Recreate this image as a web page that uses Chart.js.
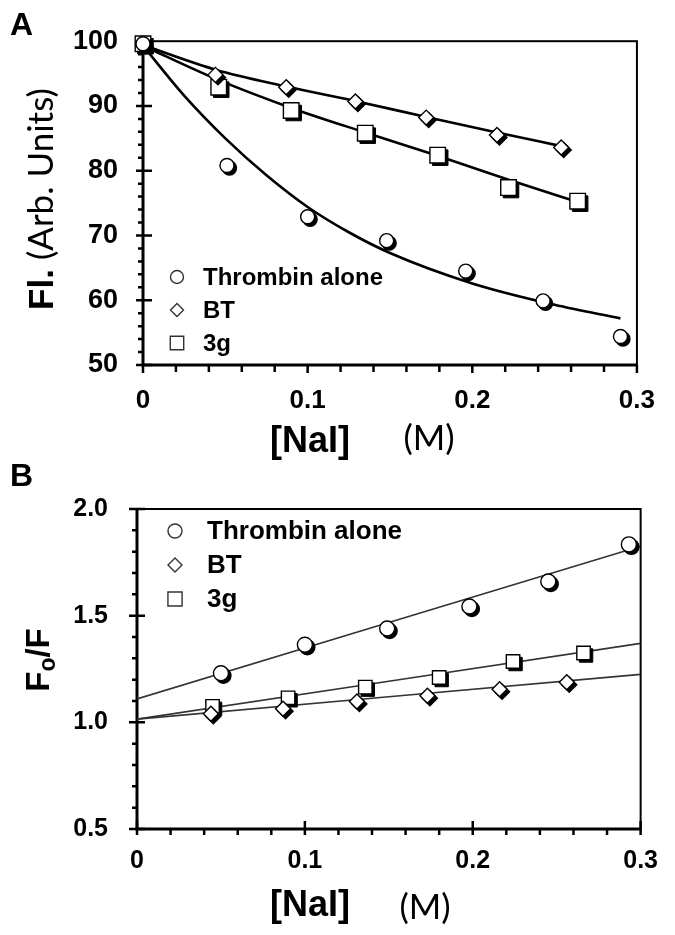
<!DOCTYPE html>
<html>
<head>
<meta charset="utf-8">
<script src="https://cdn.jsdelivr.net/npm/chart.js@4.4.0/dist/chart.umd.min.js"></script>
<style>
  body { margin: 0; background: #fff; }
  #page { position: relative; width: 675px; height: 935px; overflow: hidden; background: #fff; }
  canvas { position: absolute; left: 0; }
  .lbl { position: absolute; white-space: nowrap; color: #000; line-height: 1;
         font-family: "Liberation Sans", Arial, sans-serif; }
  .c { transform: translate(-50%, -50%); }
  .rot { transform: translate(-50%, -50%) rotate(-90deg); }
  .b { font-weight: bold; }
  .thin { font-family: Lato, "Open Sans", sans-serif; font-weight: normal; }
</style>
</head>
<body>
<div id="page">
  <canvas id="chartA" width="675" height="465" style="top:0"></canvas>
  <canvas id="chartB" width="675" height="470" style="top:465px"></canvas>

  <div class="lbl b" style="left:10px;top:8px;font-size:32px">A</div>
  <div class="lbl b" style="left:10px;top:459px;font-size:32px">B</div>

  <div class="lbl rot" style="left:40px;top:199px;font-size:35px"><span class="b">Fl.</span><span class="thin"> (Arb. Units)</span></div>
  <div class="lbl b c" style="left:310px;top:440px;font-size:36px">[NaI]</div>
  <div class="lbl thin c" style="left:429px;top:436px;font-size:35px">(M)</div>

  <div class="lbl b rot" style="left:40px;top:660px;font-size:33px">F<sub style="font-size:23px;vertical-align:-6px">o</sub>/F</div>
  <div class="lbl b c" style="left:310px;top:904px;font-size:36px">[NaI]</div>
  <div class="lbl thin c" style="left:425px;top:905px;font-size:35px">(M)</div>
</div>

<script>
// ---- Panel A: fluorescence vs [NaI] ----
const thrombinX_A = [0, 0.051, 0.100, 0.148, 0.196, 0.243, 0.290];
const thrombinY_A = [99.6, 80.8, 72.9, 69.2, 64.5, 59.9, 54.4];
const btX_A = [0, 0.044, 0.087, 0.129, 0.172, 0.215, 0.254];
const btY_A = [99.6, 94.8, 92.9, 90.7, 88.2, 85.5, 83.6];
const g3X_A = [0, 0.046, 0.090, 0.135, 0.179, 0.222, 0.264];
const g3Y_A = [99.6, 92.9, 89.3, 85.8, 82.4, 77.4, 75.3];

// fitted curves
const thrombinFitX_A = [0, 0.025, 0.05, 0.075, 0.1, 0.125, 0.15, 0.2, 0.25, 0.29];
const thrombinFitY_A = [99.3, 91.6, 85.0, 79.3, 74.4, 70.5, 67.3, 62.6, 59.3, 57.2];
const btFitX_A = [0, 0.044, 0.087, 0.13, 0.172, 0.215, 0.254];
const btFitY_A = [99.4, 95.6, 93.0, 90.7, 88.3, 85.9, 83.8];
const g3FitX_A = [0, 0.045, 0.09, 0.135, 0.178, 0.222, 0.265];
const g3FitY_A = [99.3, 94.1, 89.7, 85.9, 82.4, 78.6, 75.1];

// ---- Panel B: Stern-Volmer plot ----
const thrombinX_B = [0.050, 0.100, 0.149, 0.198, 0.245, 0.293];
const thrombinY_B = [1.230, 1.364, 1.440, 1.543, 1.660, 1.834];
const btX_B = [0.044, 0.087, 0.131, 0.173, 0.216, 0.256];
const btY_B = [1.040, 1.064, 1.098, 1.125, 1.155, 1.188];
const g3X_B = [0.045, 0.090, 0.136, 0.180, 0.224, 0.266];
const g3Y_B = [1.075, 1.115, 1.165, 1.210, 1.285, 1.325];

const fitX_B = [0, 0.3];
const thrombinFitY_B = [1.110, 1.825];
const btFitY_B = [1.015, 1.225];
const g3FitY_B = [1.015, 1.370];

const seriesNames = ['Thrombin alone', 'BT', '3g'];

const pts = (xs, ys) => xs.map((x, i) => ({ x: x, y: ys[i] }));
const near = (v, step) => Math.abs(v / step - Math.round(v / step)) < 1e-6;
const FONT = '"Liberation Sans", Arial, sans-serif';

// white markers with a black drop shadow
const markShadow = {
  id: 'markShadow',
  beforeDatasetDraw(chart, args) {
    const ds = chart.data.datasets[args.index];
    if (!ds.shadow) return;
    const ctx = chart.ctx;
    ctx.save();
    ctx.fillStyle = '#000';
    ctx.strokeStyle = '#000';
    args.meta.data.forEach(p => {
      Chart.helpers.drawPoint(ctx, { pointStyle: ds.pointStyle, radius: ds.pointRadius,
        borderWidth: ds.pointBorderWidth, rotation: 0 }, p.x + ds.shadow, p.y + ds.shadow);
    });
    ctx.restore();
  }
};

// frame + major/minor tick marks
const axisBox = {
  id: 'axisBox',
  beforeDatasetsDraw(chart, args, o) {
    const { ctx, chartArea: a } = chart;
    const xs = chart.scales.x, ys = chart.scales.y;
    ctx.save();
    ctx.strokeStyle = '#000';
    ctx.lineWidth = o.frame;
    ctx.strokeRect(a.left, a.top, a.right - a.left, a.bottom - a.top);
    ctx.lineWidth = o.axis;
    ctx.beginPath();
    ctx.moveTo(a.left, a.top);
    ctx.lineTo(a.left, a.bottom);
    ctx.lineTo(a.right, a.bottom);
    ctx.stroke();
    ctx.lineWidth = o.tickW;
    ctx.beginPath();
    xs.ticks.forEach(t => {
      const px = xs.getPixelForValue(t.value);
      const m = near(t.value, o.xMajor) ? o.xMaj : o.xMin;
      ctx.moveTo(px, a.bottom - m[0]);
      ctx.lineTo(px, a.bottom + m[1]);
    });
    ys.ticks.forEach(t => {
      const py = ys.getPixelForValue(t.value);
      const m = near(t.value, o.yMajor) ? o.yMaj : o.yMin;
      ctx.moveTo(a.left - m[1], py);
      ctx.lineTo(a.left + m[0], py);
    });
    ctx.stroke();
    ctx.restore();
  }
};

// legend drawn inside the plot area
const inLegend = {
  id: 'inLegend',
  afterDraw(chart, args, o) {
    const { ctx, chartArea: a } = chart;
    const items = chart.data.datasets.filter(d => d.inLegend);
    ctx.save();
    ctx.font = o.font;
    ctx.textBaseline = 'middle';
    items.forEach((d, i) => {
      const y = (o.fromBottom ? a.bottom : a.top) + o.y + i * o.gap;
      ctx.fillStyle = '#fff';
      ctx.strokeStyle = '#333';
      Chart.helpers.drawPoint(ctx, { pointStyle: d.pointStyle, radius: o.r[i], borderWidth: 1.3, rotation: 0 },
        a.left + o.markX, y);
      ctx.fillStyle = '#000';
      ctx.fillText(d.label, a.left + o.textX, y + 1);
    });
    ctx.restore();
  }
};

function markers(label, style, r, data, shadow) {
  return { label: label, data: data, showLine: false, pointStyle: style, pointRadius: r,
    pointBorderWidth: 1.4, pointBackgroundColor: '#fff', pointBorderColor: '#000',
    pointHoverRadius: r, shadow: shadow, inLegend: true, clip: false };
}
function fitLine(data, color, width) {
  return { data: data, showLine: true, borderColor: color, borderWidth: width, pointRadius: 0,
    pointHoverRadius: 0, fill: false, cubicInterpolationMode: 'monotone' };
}

function options(c) {
  return {
    responsive: false,
    animation: false,
    layout: { padding: { left: 0, top: c.top, right: c.right, bottom: 0 } },
    plugins: {
      legend: { display: false },
      tooltip: { enabled: false },
      axisBox: c.box,
      inLegend: c.legend
    },
    scales: {
      x: {
        type: 'linear', min: 0, max: 0.3,
        afterFit: s => { s.height = c.xH; },
        border: { display: false },
        grid: { display: false, drawTicks: false },
        ticks: { stepSize: 0.02, autoSkip: false, maxRotation: 0, padding: c.xPad, color: '#000',
          font: { family: FONT, size: c.xFont, weight: 'bold' },
          callback: v => near(v, 0.1) ? String(Math.round(v * 10) / 10) : '' }
      },
      y: {
        type: 'linear', min: c.yMin, max: c.yMax,
        afterFit: s => { s.width = c.yW; },
        border: { display: false },
        grid: { display: false, drawTicks: false },
        ticks: { stepSize: c.yStep, autoSkip: false, padding: c.yPad, color: '#000',
          font: { family: FONT, size: c.yFont, weight: 'bold' },
          callback: v => near(v, c.yMajor) ? c.fmt(v) : '' }
      }
    }
  };
}

new Chart(document.getElementById('chartA'), {
  type: 'scatter',
  data: {
    datasets: [
      markers(seriesNames[0], 'circle', 7, pts(thrombinX_A, thrombinY_A), 2.5),
      markers(seriesNames[1], 'rectRot', 7.5, pts(btX_A, btY_A), 2.5),
      markers(seriesNames[2], 'rect', 11, pts(g3X_A, g3Y_A), 2.5),
      fitLine(pts(thrombinFitX_A, thrombinFitY_A), '#000', 2.6),
      fitLine(pts(btFitX_A, btFitY_A), '#000', 2.6),
      fitLine(pts(g3FitX_A, g3FitY_A), '#000', 2.6)
    ]
  },
  options: options({
    top: 27, right: 20, xH: 100, yW: 143,
    xPad: 20, yPad: 25, xFont: 26, yFont: 27,
    yMin: 50, yMax: 100, yStep: 2, yMajor: 10, fmt: v => String(Math.round(v)),
    box: { frame: 2, axis: 3, tickW: 2.5, xMajor: 0.1, yMajor: 10,
      xMaj: [0, 8], xMin: [0, 7], yMaj: [9, 7], yMin: [0, 5] },
    legend: { font: 'bold 24px ' + FONT, fromBottom: true, y: -88, gap: 33,
      markX: 34, textX: 60, r: [6.5, 6.5, 9.5] }
  }),
  plugins: [markShadow, axisBox, inLegend]
});

new Chart(document.getElementById('chartB'), {
  type: 'scatter',
  data: {
    datasets: [
      markers(seriesNames[0], 'circle', 7.5, pts(thrombinX_B, thrombinY_B), 2.5),
      markers(seriesNames[1], 'rectRot', 7.5, pts(btX_B, btY_B), 2.5),
      markers(seriesNames[2], 'rect', 9.5, pts(g3X_B, g3Y_B), 2.5),
      fitLine(pts(fitX_B, thrombinFitY_B), '#333', 1.6),
      fitLine(pts(fitX_B, btFitY_B), '#333', 1.6),
      fitLine(pts(fitX_B, g3FitY_B), '#333', 1.6)
    ]
  },
  options: options({
    top: 26, right: 22, xH: 106, yW: 137,
    xPad: 17, yPad: 29, xFont: 25, yFont: 25,
    yMin: 0.5, yMax: 2.0, yStep: 0.1, yMajor: 0.5, fmt: v => v.toFixed(1),
    box: { frame: 2, axis: 3, tickW: 2.5, xMajor: 0.1, yMajor: 0.5,
      xMaj: [8, 6], xMin: [0, 6], yMaj: [8, 8], yMin: [0, 5] },
    legend: { font: 'bold 26px ' + FONT, fromBottom: false, y: 22, gap: 34,
      markX: 38, textX: 70, r: [7, 7, 10] }
  }),
  plugins: [markShadow, axisBox, inLegend]
});
</script>
</body>
</html>
